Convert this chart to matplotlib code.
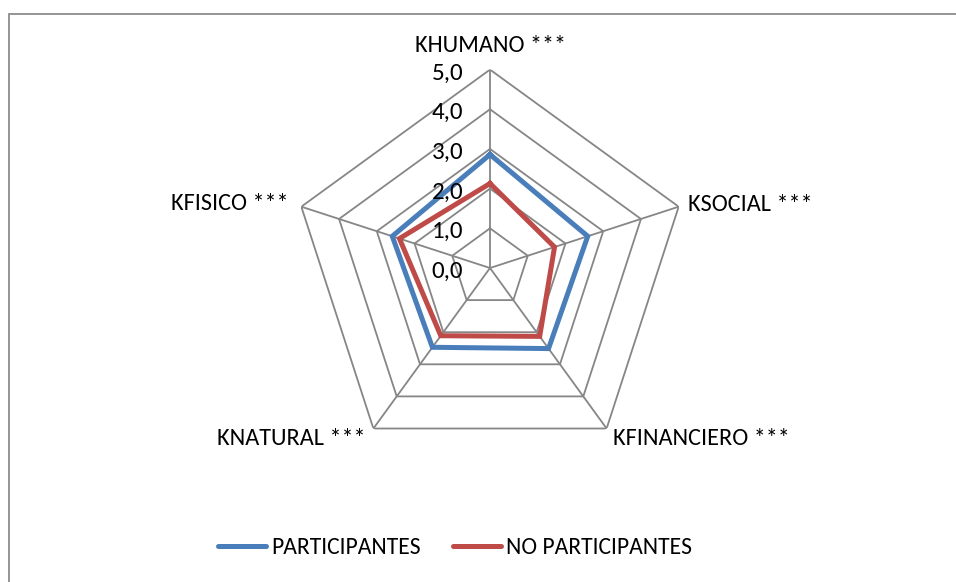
import numpy as np
import matplotlib
matplotlib.use("Agg")
import matplotlib.pyplot as plt
from matplotlib.patches import Rectangle
from matplotlib.lines import Line2D

plt.rcParams['font.family'] = ['Carlito', 'Lato', 'DejaVu Sans']

# Data
categories = ['KHUMANO ***', 'KSOCIAL ***', 'KFINANCIERO ***', 'KNATURAL ***', 'KFISICO ***']
participantes = [2.86, 2.59, 2.51, 2.47, 2.59]
no_participantes = [2.13, 1.71, 2.13, 2.11, 2.40]
series_names = ['PARTICIPANTES', 'NO PARTICIPANTES']
r_ticks = [0, 1, 2, 3, 4, 5]
r_tick_labels = ['0,0', '1,0', '2,0', '3,0', '4,0', '5,0']

blue = '#4A7EBB'
red = '#BE4B48'
grid_c = '#868686'

W, H = 956, 582
fig = plt.figure(figsize=(W / 100, H / 100), dpi=100)
fig.patch.set_facecolor('white')

# Chart frame
fig.add_artist(Rectangle((8.5 / W, -0.1), 1.2, (H - 13.5) / H + 0.1,
                         transform=fig.transFigure, fill=False,
                         ec='#8c8c8c', lw=1.3))

cx, cy, R = 490, 268, 198.4
ax = fig.add_axes([(cx - R) / W, (H - cy - R) / H, 2 * R / W, 2 * R / H],
                  projection='polar')
ax.set_theta_offset(np.pi / 2)
ax.set_theta_direction(-1)
ax.set_ylim(0, 5)
ax.grid(False)
ax.spines['polar'].set_visible(False)
ax.set_xticks([])
ax.set_yticks([])
ax.patch.set_alpha(0)

n = len(categories)
angles = np.arange(n) * 2 * np.pi / n
closed = np.append(angles, angles[0])

# Pentagonal grid and spokes
for lvl in r_ticks[1:]:
    ax.plot(closed, [lvl] * (n + 1), color=grid_c, lw=1.3, zorder=1)
for a in angles:
    ax.plot([a, a], [0, r_ticks[-1]], color=grid_c, lw=1.3, zorder=1)

# Series
for vals, col in [(participantes, blue), (no_participantes, red)]:
    ax.plot(closed, list(vals) + [vals[0]], color=col, lw=3.6,
            solid_joinstyle='miter', zorder=3)

# Radial tick labels
for lvl, lab in zip(r_ticks, r_tick_labels):
    ax.annotate(lab, xy=(0, lvl), xytext=(-27, -10), textcoords='offset pixels',
                ha='right', va='baseline', fontsize=18, color='#000000',
                annotation_clip=False, zorder=4)

# Category labels
offsets = [(0, 18, 'center'), (9, -4, 'left'), (6, -16, 'left'),
           (-8, -16, 'right'), (-13, -3, 'right')]
for a, lab, (dx, dy, ha) in zip(angles, categories, offsets):
    ax.annotate(lab, xy=(a, 5), xytext=(dx, dy), textcoords='offset pixels',
                ha=ha, va='baseline', fontsize=17.5, color='#000000',
                annotation_clip=False)

# Legend
fs = 17
fpx = fs * 100 / 72
handles = [Line2D([], [], color=blue, lw=3.6, solid_capstyle='round'),
           Line2D([], [], color=red, lw=3.6, solid_capstyle='round')]
fig.legend(handles, series_names, loc='center', bbox_to_anchor=(455 / W, 1 - 548 / H),
           ncol=2, frameon=False, fontsize=fs, handlelength=48 / fpx,
           handletextpad=5 / fpx, columnspacing=32 / fpx, borderpad=0,
           borderaxespad=0)

fig.savefig('out.png', dpi=100, facecolor='white')
